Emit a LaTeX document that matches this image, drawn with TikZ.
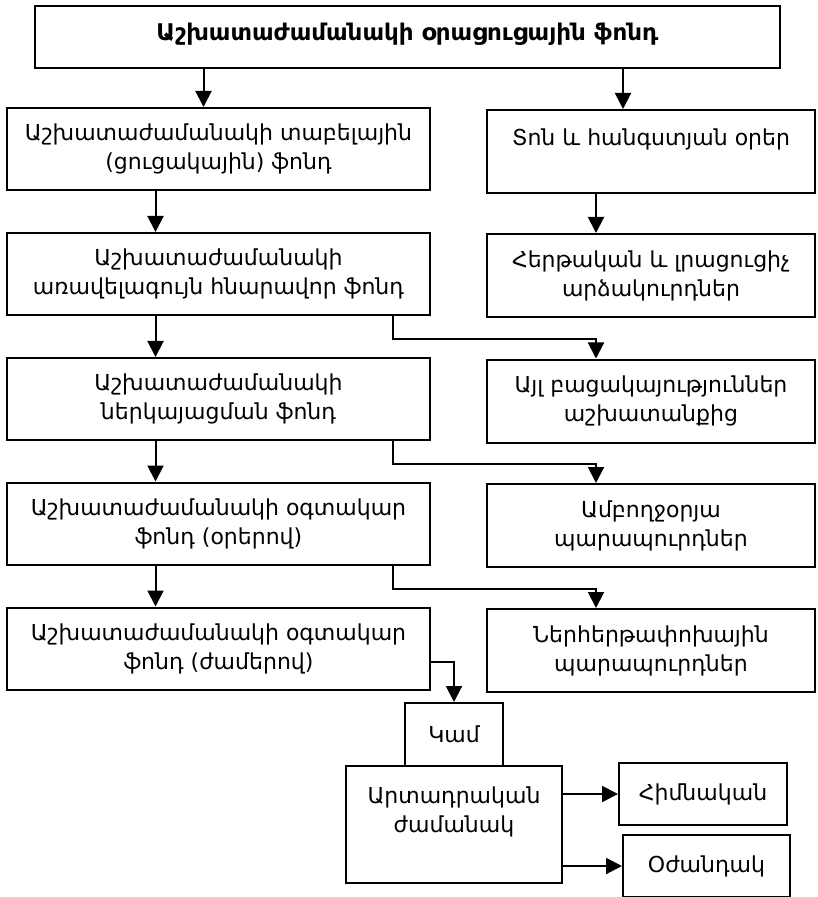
\documentclass[tikz,border=0pt]{standalone}
\usepackage{fontspec}
\setmainfont{DejaVu Sans}
\usepackage{tikz}
\usetikzlibrary{arrows.meta}
\usetikzlibrary{positioning}

\begin{document}
\begin{tikzpicture}[x=0.5pt, y=-0.5pt, line width=1pt,
    box/.style={draw, align=center, inner sep=0pt,
      font=\fontsize{11}{14.5}\selectfont},
    leftbox/.style={box, minimum width=211.5pt, minimum height=41pt},
    rightbox/.style={box, minimum width=164pt, minimum height=41.5pt},
    arr/.style={-{Triangle[width=8pt, length=8pt]}}] % Fund

      \useasboundingbox (0, 0) rectangle (817, 897);

      \node [box, minimum width=372.5pt, minimum height=31pt, text depth=5pt,
        font=\bfseries\fontsize{11.5}{14}\selectfont] (fund) at (407.5, 37)
        {Աշխատաժամանակի օրացուցային ֆոնդ};

      \node [leftbox] (tabel) at (218.5, 149)
        {Աշխատաժամանակի տաբելային\\(ցուցակային) ֆոնդ};
      \node [rightbox] (ton) at (651, 151.5)
        {Տոն և հանգստյան օրեր\\\mbox{}};
      \node [leftbox] (max) at (218.5, 274)
        {Աշխատաժամանակի\\առավելագույն հնարավոր ֆոնդ};
      \node [rightbox] (ardz) at (651, 275.5)
        {Հերթական և լրացուցիչ\\արձակուրդներ};
      \node [leftbox] (nerk) at (218.5, 399)
        {Աշխատաժամանակի\\ներկայացման ֆոնդ};
      \node [rightbox] (bats) at (651, 401)
        {Այլ բացակայություններ\\աշխատանքից};
      \node [leftbox] (orer) at (218.5, 523.5)
        {Աշխատաժամանակի օգտակար\\ֆոնդ (օրերով)};
      \node [rightbox] (amb) at (651, 525.5)
        {Ամբողջօրյա\\պարապուրդներ};
      \node [leftbox] (zham) at (218.5, 648.5)
        {Աշխատաժամանակի օգտակար\\ֆոնդ (ժամերով)};
      \node [rightbox] (nerh) at (651, 650.5)
        {Ներհերթափոխային\\պարապուրդներ};

      \node [box, minimum width=49pt, minimum height=31.5pt] (kam) at (454, 734.5)
        {Կամ};
      \node [box, minimum width=108pt, minimum height=58.5pt] (artadr) at (454, 824.5)
        {Արտադրական\\ժամանակ\\\mbox{}};
      \node [box, minimum width=84pt, minimum height=31pt] (himn) at (703, 794)
        {Հիմնական};
      \node [box, minimum width=83.5pt, minimum height=31pt] (ozh) at (706.5, 866)
        {Օժանդակ};

      \draw [arr] ([xshift=-7.5pt]tabel.north |- fund.south) -- ([xshift=-7.5pt]tabel.north);
      \draw [arr] ([xshift=-14pt]ton.north |- fund.south) -- ([xshift=-14pt]ton.north);
      \draw [arr] ([xshift=-27.5pt]ton.south) -- ([xshift=-27.5pt]ardz.north);

      \foreach \a/\b in {tabel/max, max/nerk, nerk/orer, orer/zham}
        \draw [arr] ([xshift=-31.5pt]\a.south) -- ([xshift=-31.5pt]\b.north);

      \foreach \a/\b in {max/bats, nerk/amb, orer/nerh}
        \draw [arr] ([xshift=87pt]\a.south) -- ++(0, 23) -| ([xshift=-27.5pt]\b.north);

      \draw [arr] ([yshift=-6.75pt]zham.east) -| (kam.north);
      \draw [arr] (artadr.east |- himn.west) -- (himn.west);
      \draw [arr] (artadr.east |- ozh.west) -- (ozh.west);

    \end{tikzpicture}
\end{document}
